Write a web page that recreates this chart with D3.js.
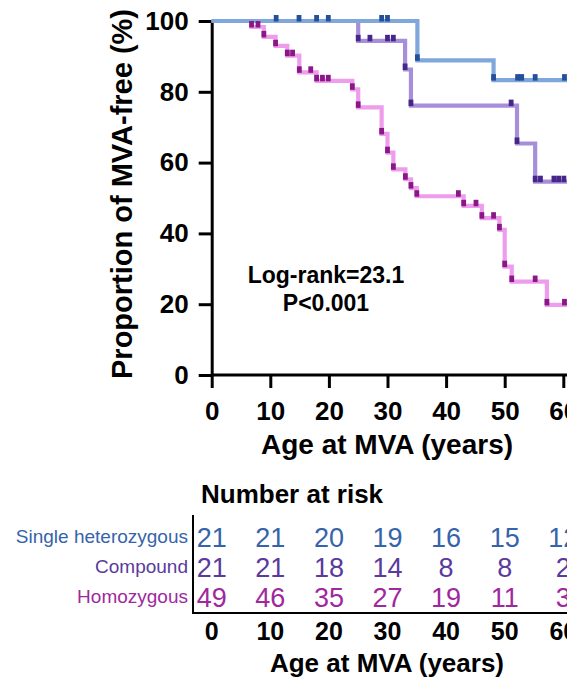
<!DOCTYPE html>
<html>
<head>
<meta charset="utf-8">
<script src="https://cdn.jsdelivr.net/npm/d3@7"></script>
<style>
  html, body { margin: 0; padding: 0; background: #fff; }
  svg { display: block; }
  text { font-family: "Liberation Sans", Arial, Helvetica, sans-serif; }
</style>
</head>
<body>
<svg id="chart" width="567" height="680"></svg>
<script>
// Kaplan–Meier curves: freedom from major ventricular arrhythmia (MVA) by genotype

const groupNames = ["Single heterozygous", "Compound", "Homozygous"];
const riskYears = [0, 10, 20, 30, 40, 50, 60];
const yTicks = [0, 20, 40, 60, 80, 100];

// survival steps: event times (years) and the proportion (%) after each step
const singleTimes = [35.1, 48.1];
const singleSurv = [88.9, 83.3];
const singleMarks = [11.0, 14.9, 17.9, 19.9, 29.0, 30.0, 35.1, 48.1, 52.2, 52.9, 55.2, 60.2];

const compoundTimes = [25.0, 33.0, 34.0, 52.1, 55.2];
const compoundSurv = [94.4, 86.3, 76.1, 65.4, 54.6];
const compoundMarks = [25.0, 27.0, 30.0, 31.0, 33.0, 34.0, 51.1, 52.1, 55.2, 56.1, 58.4, 59.2, 60.1];

const homoTimes = [6.8, 8.9, 10.9, 12.9, 14.95, 17.9, 24.0, 25.0, 29.0, 30.0, 31.0, 33.05, 34.0, 35.0, 43.0, 46.1, 49.1, 50.0, 51.2, 57.2];
const homoSurv = [98.3, 95.5, 93.0, 90.2, 85.5, 83.1, 80.7, 75.6, 68.1, 62.8, 58.1, 55.3, 52.8, 50.5, 47.8, 44.3, 41.0, 30.6, 26.4, 19.8];
const homoMarks = [6.8, 7.9, 8.9, 10.9, 12.9, 13.8, 14.95, 16.9, 17.9, 18.9, 19.9, 24.0, 25.0, 29.0, 30.0, 31.0, 33.05, 34.0, 35.0, 42.1, 43.0, 45.1, 46.1, 48.1, 49.1, 50.0, 51.2, 55.2, 57.2, 60.2];

// numbers at risk
const riskSingle = [21, 21, 20, 19, 16, 15, 12];
const riskCompound = [21, 21, 18, 14, 8, 8, 2];
const riskHomo = [49, 46, 35, 27, 19, 11, 3];

const stats = ["Log-rank=23.1", "P<0.001"];

const groups = [
  { name: groupNames[2], times: homoTimes, surv: homoSurv, marks: homoMarks, risk: riskHomo,
    line: "#ee9dec", mark: "#8a1787", text: "#a0289e" },
  { name: groupNames[1], times: compoundTimes, surv: compoundSurv, marks: compoundMarks, risk: riskCompound,
    line: "#a68ed9", mark: "#47268c", text: "#5a3a9c" },
  { name: groupNames[0], times: singleTimes, surv: singleSurv, marks: singleMarks, risk: riskSingle,
    line: "#7fa7dc", mark: "#24509a", text: "#3564aa" }
];

const svg = d3.select("#chart");
const x = d3.scaleLinear().domain([0, 60]).range([211.7, 563.3]);
const y = d3.scaleLinear().domain([0, 100]).range([375, 21]);
const xEnd = 61.5;

function survAt(g, t) {
  let s = 100;
  g.times.forEach((tt, i) => { if (t >= tt) s = g.surv[i]; });
  return s;
}

// axes
const yAxis = d3.axisLeft(y).tickValues(yTicks).tickSize(13).tickSizeOuter(0).tickPadding(10);
const xAxis = d3.axisBottom(x).tickValues(riskYears).tickSize(13).tickSizeOuter(0).tickPadding(14);

const gy = svg.append("g").attr("transform", `translate(${x(0)},0)`).call(yAxis);
const gx = svg.append("g").attr("transform", `translate(0,${y(0)})`).call(xAxis);
gx.select(".domain").attr("d", `M${x(0)},0H${x(xEnd)}`);
[gx, gy].forEach(g => {
  g.selectAll(".domain, line").attr("stroke", "#000").attr("stroke-width", 3);
  g.selectAll("text").attr("fill", "#000").attr("font-size", 26).attr("font-weight", "bold")
    .attr("font-family", '"Liberation Sans", Arial, sans-serif');
});

// step curves
const line = d3.line().curve(d3.curveStepAfter).x(d => x(d[0])).y(d => y(d[1]));
groups.forEach(g => {
  const pts = [[0, 100]].concat(g.times.map((t, i) => [t, g.surv[i]]));
  pts.push([xEnd, g.surv[g.surv.length - 1]]);
  svg.append("path").datum(pts).attr("d", line)
    .attr("fill", "none").attr("stroke", g.line).attr("stroke-width", 4.2)
    .attr("stroke-linejoin", "miter");
});

// censor / event markers
groups.forEach(g => {
  svg.append("g").selectAll("rect").data(g.marks).join("rect")
    .attr("x", t => x(t) - 2.4)
    .attr("y", t => y(survAt(g, t)) - 6)
    .attr("width", 4.8).attr("height", 6.5)
    .attr("fill", g.mark);
});

// axis titles
svg.append("text")
  .attr("transform", `translate(132,194) rotate(-90)`)
  .attr("text-anchor", "middle").attr("font-size", 29).attr("font-weight", "bold")
  .text("Proportion of MVA-free (%)");

svg.append("text").attr("x", 387).attr("y", 454)
  .attr("text-anchor", "middle").attr("font-size", 28).attr("font-weight", "bold")
  .text("Age at MVA (years)");

// test statistic
svg.append("g").selectAll("text").data(stats).join("text")
  .attr("x", 326).attr("y", (d, i) => 283 + i * 28)
  .attr("text-anchor", "middle").attr("font-size", 23).attr("font-weight", "bold")
  .text(d => d);

// number-at-risk table
svg.append("text").attr("x", 201).attr("y", 503)
  .attr("font-size", 26).attr("font-weight", "bold").text("Number at risk");

const rowBase = [547, 577, 607];
const tableGroups = [groups[2], groups[1], groups[0]];
tableGroups.forEach((g, r) => {
  svg.append("text").attr("x", 188).attr("y", rowBase[r] - 4)
    .attr("text-anchor", "end").attr("font-size", 19).attr("fill", g.text)
    .text(g.name);
  svg.append("g").selectAll("text").data(g.risk).join("text")
    .attr("x", (d, i) => x(riskYears[i]))
    .attr("y", rowBase[r])
    .attr("text-anchor", "middle").attr("font-size", 27).attr("fill", g.text)
    .text(d => d);
});

svg.append("path").attr("d", `M193,515V613H${x(xEnd)}`)
  .attr("fill", "none").attr("stroke", "#000").attr("stroke-width", 2);

svg.append("g").selectAll("text").data(riskYears).join("text")
  .attr("x", d => x(d)).attr("y", 640)
  .attr("text-anchor", "middle").attr("font-size", 25).attr("font-weight", "bold")
  .text(d => d);

svg.append("text").attr("x", 387).attr("y", 672)
  .attr("text-anchor", "middle").attr("font-size", 26).attr("font-weight", "bold")
  .text("Age at MVA (years)");
</script>
</body>
</html>
